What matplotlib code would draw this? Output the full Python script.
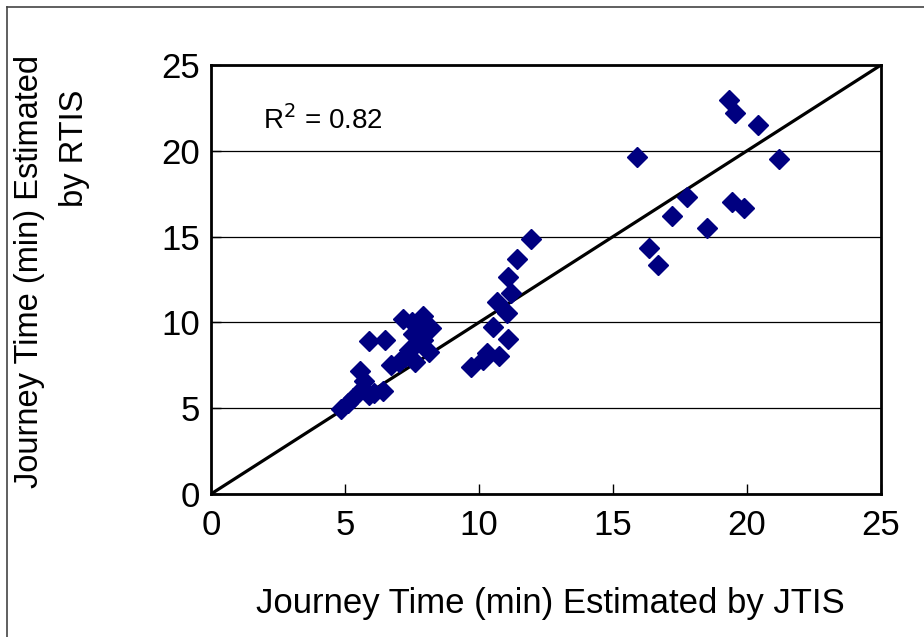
import matplotlib
matplotlib.use("Agg")
import matplotlib.pyplot as plt
from matplotlib.lines import Line2D

# JTIS (x) vs RTIS (y) journey times, minutes
jtis = [4.85, 5.1, 5.3, 5.55, 5.7, 5.65, 5.9, 6.1, 6.4, 5.9, 6.5, 6.7, 7.0,
        7.15, 7.5, 7.9, 7.55, 7.8, 8.2, 7.4, 7.25, 7.6, 8.15, 7.9, 7.7,
        9.72, 10.16, 10.29, 10.76, 11.08, 10.53, 11.03, 10.66, 11.18, 11.08, 11.41, 11.93,
        15.91, 16.34, 16.67, 17.2, 17.75, 18.5, 19.43, 19.9, 21.18, 20.42, 19.56, 19.34]
rtis = [4.95, 5.3, 5.6, 7.15, 6.6, 6.1, 5.75, 5.9, 6.0, 8.9, 9.0, 7.5, 7.7,
        10.2, 10.0, 10.4, 9.3, 9.6, 9.7, 8.4, 8.0, 7.7, 8.3, 9.0, 8.8,
        7.42, 7.81, 8.2, 8.04, 9.05, 9.71, 10.53, 11.21, 11.73, 12.66, 13.68, 14.84,
        19.66, 14.35, 13.35, 16.2, 17.33, 15.52, 17.04, 16.65, 19.5, 21.5, 22.18, 22.96]
line_x = [0, 25]
line_y = [0, 25]
ticks = [0, 5, 10, 15, 20, 25]

plt.rcParams['font.family'] = ['Liberation Sans', 'DejaVu Sans']

fig = plt.figure(figsize=(9.24, 6.37), dpi=100)
ax = fig.add_axes([211/924, 143/637, 670/924, 429/637])

ax.plot(line_x, line_y, color='black', lw=2.3, zorder=2)
ax.plot(jtis, rtis, linestyle='none', marker='D', ms=10.2, color='#000080',
        markeredgecolor='#000080', zorder=3)

ax.set_xlim(0, 25)
ax.set_ylim(0, 25)
ax.set_xticks(ticks)
ax.set_yticks(ticks)
ax.tick_params(axis='both', direction='in', length=7, width=1, labelsize=25, pad=8)
ax.tick_params(axis='x', pad=11)
for s in ax.spines.values():
    s.set_linewidth(2.0)
ax.yaxis.grid(True, color='black', lw=0.9)
ax.set_axisbelow(True)

fig.text(263/924, 1 - 120/637, r'R$^2$ = 0.82', fontsize=20, va='center', ha='left')

fig.text(550/924, 1 - 604/637, 'Journey Time (min) Estimated by JTIS', fontsize=25,
         ha='center', va='center')
fig.text(30/924, 1 - 271/637, 'Journey Time (min) Estimated', fontsize=23.5,
         rotation=90, ha='center', va='center')
fig.text(75/924, 1 - 148/637, 'by RTIS', fontsize=23.5,
         rotation=90, ha='center', va='center')

fig.add_artist(Line2D([7/924, 7/924], [0, 1 - 7/637], transform=fig.transFigure, color='#444444', lw=1.2))
fig.add_artist(Line2D([7/924, 1], [1 - 7/637, 1 - 7/637], transform=fig.transFigure, color='#444444', lw=1.2))

fig.savefig('out.png', dpi=100)
